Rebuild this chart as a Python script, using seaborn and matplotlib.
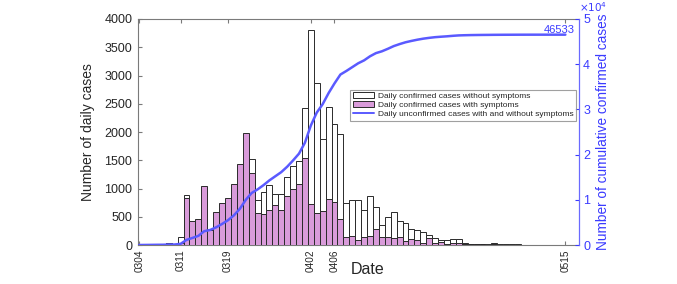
import matplotlib
matplotlib.use('Agg')
import matplotlib.pyplot as plt
import seaborn as sns
from matplotlib.patches import Patch
from matplotlib.lines import Line2D

# ---------------- data ----------------
days = list(range(73))                      # 0 = 03-04 ... 72 = 05-15
tick_days = [0, 7, 15, 29, 33, 72]
tick_labels = ['0304', '0311', '0319', '0402', '0406', '0515']

# top of the white bars (daily confirmed cases without symptoms)
without_symptoms = [0, 0, 0, 0, 0, 40, 0, 150, 880, 0,
                    0, 0, 0, 0, 0, 0, 0, 0, 0, 1530,
                    795, 940, 1062, 910, 910, 1195, 1400, 1495, 2420, 3800,
                    2862, 1868, 2448, 2145, 1962, 743, 790, 800, 617, 867,
                    678, 360, 496, 578, 430, 398, 289, 270, 224, 180,
                    130, 85, 80, 100, 100, 41, 24, 24, 18, 12,
                    35, 18, 18, 12, 12, 5, 4, 3, 3, 2,
                    2, 0, 0]

# purple bars (daily confirmed cases with symptoms)
with_symptoms = [15, 0, 15, 18, 10, 30, 10, 40, 840, 425,
                 460, 1040, 265, 584, 740, 830, 1075, 1434, 1980, 1270,
                 570, 543, 625, 700, 620, 860, 986, 1077, 1537, 720,
                 561, 605, 812, 755, 463, 145, 162, 80, 145, 160,
                 278, 135, 136, 125, 140, 70, 115, 85, 38, 120,
                 30, 50, 25, 35, 30, 20, 15, 15, 10, 8,
                 10, 8, 8, 5, 5, 3, 2, 2, 2, 1,
                 1, 0, 0]

# cumulative curve (right axis)
cumulative = [0, 15, 30, 48, 58, 98, 108, 258, 1138, 1563,
              2023, 3063, 3328, 3912, 4652, 5482, 6557, 7991, 9971, 11501,
              12296, 13236, 14298, 15208, 16118, 17313, 18713, 20208, 22628, 26428,
              29290, 31158, 33606, 35751, 37713, 38500, 39350, 40200, 40850, 41750,
              42450, 42850, 43400, 44000, 44450, 44850, 45150, 45420, 45650, 45830,
              45980, 46080, 46170, 46280, 46370, 46410, 46440, 46460, 46475, 46485,
              46500, 46508, 46515, 46520, 46525, 46528, 46530, 46531, 46532, 46532,
              46533, 46533, 46533]
final_total = 46533
right_scale_label = r'$\times10^4$'
right_ticks = [0, 10000, 20000, 30000, 40000, 50000]
right_tick_labels = ['0', '1', '2', '3', '4', '5']

legend_labels = ['Daily confirmed cases without symptoms',
                 'Daily confirmed cases with symptoms',
                 'Daily unconfirmed cases with and without symptoms']

# ---------------- style ----------------
sns.set_style('ticks')
plt.rcParams['font.family'] = ['Liberation Sans', 'DejaVu Sans']

PURPLE = '#D99BDA'
BLUE_LINE = '#5A5AFF'
BLUE_TXT = '#3A3AFF'
GRAY = '#7a7a7a'

fig = plt.figure(figsize=(6.77, 2.84), dpi=100)
ax = fig.add_axes([0.2038, 0.1373, 0.6514, 0.7958])

sns.barplot(x=days, y=without_symptoms, native_scale=True, width=1.0,
            color='white', edgecolor='#2a2a2a', linewidth=0.7,
            saturation=1, errorbar=None, ax=ax, zorder=2)
sns.barplot(x=days, y=with_symptoms, native_scale=True, width=1.0,
            color=PURPLE, edgecolor='#2a2a2a', linewidth=0.7,
            saturation=1, errorbar=None, ax=ax, zorder=3)

ax.set_xlim(-0.2, 74.3)
ax.set_ylim(0, 4000)
ax.set_yticks(range(0, 4001, 500))
ax.set_xticks(tick_days)
ax.set_xticklabels(tick_labels, rotation=90, fontsize=7.2)
ax.tick_params(axis='y', labelsize=9, direction='in', length=3,
               color=GRAY, pad=4)
ax.tick_params(axis='x', direction='in', length=3, top=True, color=GRAY, pad=3)
ax.set_ylabel('Number of daily cases', fontsize=10, labelpad=7)
ax.set_xlabel('Date', fontsize=11.5, va='top')
ax.xaxis.set_label_coords(0.52, -0.075)
for s in ['left', 'bottom', 'top']:
    ax.spines[s].set_color(GRAY)
    ax.spines[s].set_linewidth(0.8)
ax.spines['right'].set_visible(False)

ax2 = ax.twinx()
sns.lineplot(x=days, y=cumulative, ax=ax2, color=BLUE_LINE, linewidth=1.8)
ax2.set_ylim(0, 50000)
ax2.set_yticks(right_ticks)
ax2.set_yticklabels(right_tick_labels)
ax2.tick_params(axis='y', labelsize=9, direction='in', length=3,
                colors=BLUE_TXT, pad=3)
ax2.set_ylabel('Number of cumulative confirmed cases', fontsize=9.8,
               color=BLUE_TXT, labelpad=4)
for s in ['left', 'bottom', 'top']:
    ax2.spines[s].set_visible(False)
ax2.spines['right'].set_color('#6a6aff')
ax2.spines['right'].set_linewidth(0.9)

fig.text(579 / 677, 1.0, right_scale_label, ha='left', va='top',
         fontsize=7.5, color=BLUE_TXT)

ax2.annotate(str(final_total), xy=(days[-1], cumulative[-1]),
             xytext=(6.5, 0), textcoords='offset points',
             ha='right', va='bottom', fontsize=8, color=BLUE_TXT)

handles = [Patch(facecolor='white', edgecolor='#2a2a2a', linewidth=0.7),
           Patch(facecolor=PURPLE, edgecolor='#2a2a2a', linewidth=0.7),
           Line2D([0], [0], color=BLUE_LINE, linewidth=1.4)]
leg = ax2.legend(handles, legend_labels, loc='upper right',
                 bbox_to_anchor=(0.993, 0.688), borderaxespad=0,
                 fontsize=6, frameon=True, fancybox=False,
                 handlelength=2.6, handleheight=0.8, handletextpad=0.4,
                 labelspacing=0.12, borderpad=0.3)
leg.get_frame().set_edgecolor('#888888')
leg.get_frame().set_linewidth(0.8)

fig.savefig('out.png', dpi=100)
